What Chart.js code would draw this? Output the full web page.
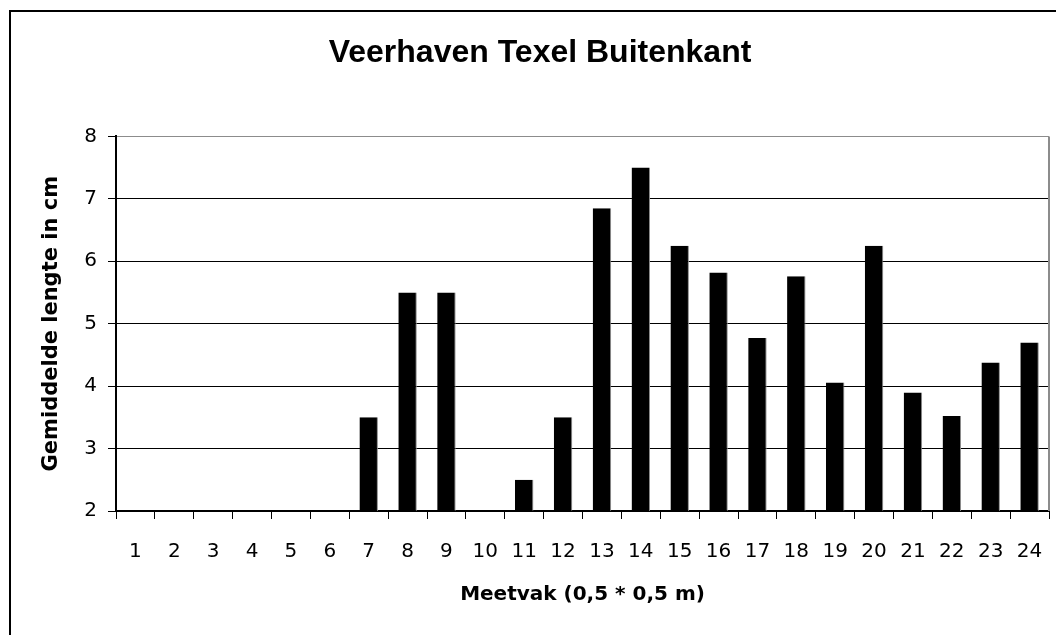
<!DOCTYPE html>
<html>
<head>
<meta charset="utf-8">
<script src="https://cdn.jsdelivr.net/npm/chart.js@4/dist/chart.umd.min.js"></script>
<style>
  html, body { margin: 0; padding: 0; background: #fff; overflow: hidden; }
  #wrap { position: relative; width: 1056px; height: 635px; }
  #frame { position: absolute; left: 9px; top: 10px; width: 1100px; height: 700px; border: 2px solid #000; box-sizing: border-box; }
  #chart { position: absolute; left: 0; top: 0; }
</style>
</head>
<body>
<div id="wrap">
  <div id="frame"></div>
  <canvas id="chart" width="1056" height="635"></canvas>
</div>
<script>
// Meetvakken en gemiddelde lengte (cm); lege vakken = null
const meetvakken = ['1','2','3','4','5','6','7','8','9','10','11','12','13','14','15','16','17','18','19','20','21','22','23','24'];
const lengtes = [null, null, null, null, null, null, 3.5, 5.5, 5.5, null, 2.5, 3.5, 6.85, 7.5, 6.25, 5.82, 4.77, 5.76, 4.06, 6.25, 3.9, 3.52, 4.38, 4.7];
const yMin = 2;
const yMax = 8;

const titel = 'Veerhaven Texel Buitenkant';
const xTitel = 'Meetvak (0,5 * 0,5 m)';
const yTitel = 'Gemiddelde lengte in cm';

// rechterrand van het plotvlak (grijs)
const plotEdge = {
  id: 'plotEdge',
  afterDatasetsDraw(chart) {
    const { ctx, chartArea: a } = chart;
    ctx.save();
    ctx.strokeStyle = '#8c8c8c';
    ctx.lineWidth = 2;
    ctx.beginPath();
    ctx.moveTo(a.right, a.top);
    ctx.lineTo(a.right, a.bottom);
    ctx.stroke();
    ctx.restore();
  }
};

new Chart(document.getElementById('chart'), {
  type: 'bar',
  data: {
    labels: meetvakken,
    datasets: [{
      data: lengtes,
      backgroundColor: '#000',
      borderColor: '#8c8c8c',
      borderWidth: { top: 0, right: 1, bottom: 0, left: 0 },
      borderSkipped: false,
      barPercentage: 0.475,
      categoryPercentage: 1
    }]
  },
  options: {
    responsive: false,
    animation: false,
    layout: { padding: { left: 31, right: 7, top: 0, bottom: 0 } },
    plugins: {
      legend: { display: false },
      tooltip: { enabled: false },
      title: {
        display: true,
        text: titel,
        color: '#000',
        font: { family: 'Liberation Sans, Arial, sans-serif', size: 32, weight: 'bold' },
        padding: { top: 34, bottom: 64 }
      }
    },
    scales: {
      x: {
        offset: true,
        grid: { display: true, drawOnChartArea: false, color: '#000', tickLength: 8, lineWidth: 1 },
        border: { display: true, color: '#000', width: 2 },
        ticks: {
          color: '#000',
          font: { family: 'DejaVu Sans, sans-serif', size: 20 },
          padding: 21,
          maxRotation: 0,
          autoSkip: false
        },
        title: {
          display: true,
          text: xTitel,
          color: '#000',
          font: { family: 'DejaVu Sans, sans-serif', size: 20, weight: 'bold' },
          padding: { top: 0, bottom: 28 }
        },
        afterFit(scale) {
          scale.height = 124;
          scale.paddingLeft = 0;
          scale.paddingRight = 0;
        }
      },
      y: {
        min: yMin,
        max: yMax,
        grid: {
          color: ctx => (ctx.tick && ctx.tick.value === yMax ? '#8c8c8c' : '#000'),
          lineWidth: 1,
          tickLength: 8,
          tickColor: '#000'
        },
        border: { display: true, color: '#000', width: 2 },
        ticks: {
          stepSize: 1,
          color: '#000',
          font: { family: 'DejaVu Sans, sans-serif', size: 20 },
          padding: 11
        },
        title: {
          display: true,
          text: yTitel,
          color: '#000',
          font: { family: 'DejaVu Sans, sans-serif', size: 21, weight: 'bold' },
          padding: { top: 8, bottom: 0 }
        },
        afterFit(scale) { scale.width = 85; }
      }
    }
  },
  plugins: [plotEdge]
});
</script>
</body>
</html>
